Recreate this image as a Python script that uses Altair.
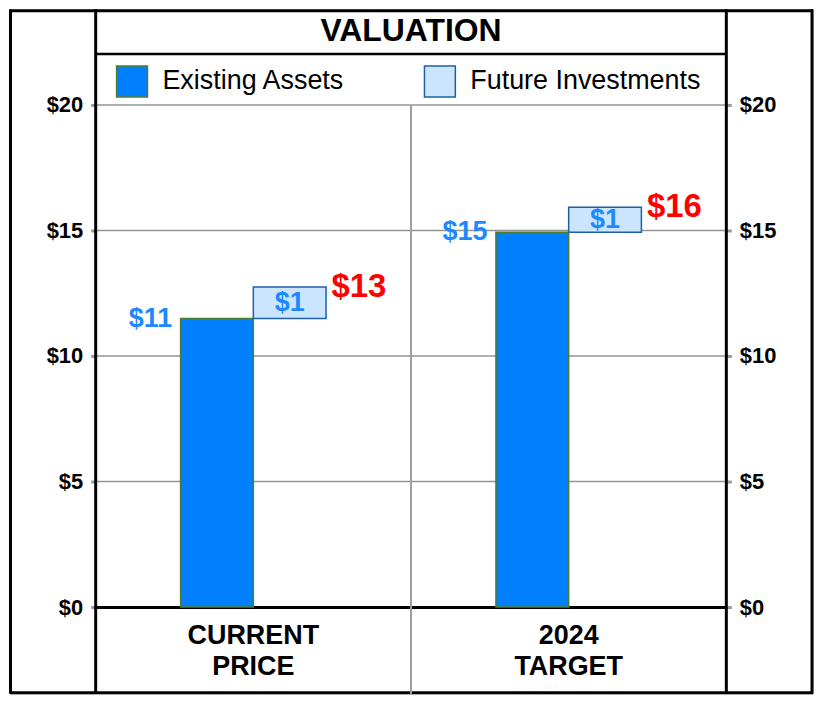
import altair as alt
import pandas as pd

FONT = "Liberation Sans"

categories = ["CURRENT PRICE", "2024 TARGET"]
series = ["Existing Assets", "Future Investments"]
existing_values = [11.49, 14.93]
future_values = [1.26, 0.99]
y_ticks = [0, 5, 10, 15, 20]
grid_values = [5, 10, 15, 20]
fill_colors = ["#0080ff", "#cce5ff"]
stroke_colors = ["#4c7d2c", "#1d5fa8"]
title_text = "VALUATION"

rows = []
for c, e, f in zip(categories, existing_values, future_values):
    rows.append({"category": c, "series": series[0], "start": 0.0, "end": e,
                 "mid": e / 2, "label": f"${round(e)}", "total_label": ""})
    rows.append({"category": c, "series": series[1], "start": e, "end": e + f,
                 "mid": e + f / 2, "label": f"${round(f)}", "total_label": f"${round(e + f)}"})
bars_df = pd.DataFrame(rows)
grid_df = pd.DataFrame({"v": grid_values})
one = pd.DataFrame({"k": [0]})

W, H = 806, 687
yscale = alt.Scale(domain=[-3.4524, 23.8095], nice=False, zero=False)

x_enc = alt.X(
    "category:N", sort=categories,
    scale=alt.Scale(domain=categories, range=[86, 719], paddingInner=0, paddingOuter=0),
    axis=alt.Axis(title=None, orient="bottom", offset=-87, domain=True, domainColor="black",
                  domainWidth=3, ticks=False, tickSize=0, labelPadding=16,
                  labelExpr="split(datum.label, ' ')", labelFontSize=27, labelFontWeight="bold",
                  labelColor="black", labelBaseline="top", labelLineHeight=31, labelAngle=0,
                  labelFont=FONT, grid=False),
)
xoff_enc = alt.XOffset("series:N",
                       scale=alt.Scale(domain=series, range=[85.25, 231.25],
                                       paddingInner=0, paddingOuter=0))

def yaxis(orient, offset):
    return alt.Axis(title=None, orient=orient, offset=offset, values=y_ticks,
                    labelExpr="'$' + datum.value", domain=False, grid=False,
                    ticks=True, tickSize=5, tickWidth=3, tickColor="#9a9a9a",
                    labelPadding=8, labelFontSize=22, labelFontWeight="bold",
                    labelColor="black", labelFont=FONT)

legend = alt.Legend(title=None, orient="none", legendX=106, legendY=56, direction="horizontal",
                    symbolType="square", symbolSize=961, symbolStrokeWidth=1.5,
                    labelFontSize=27, labelFont=FONT, labelColor="black", labelOffset=14,
                    columnPadding=76, padding=0, labelLimit=400)

bars = alt.Chart(bars_df).mark_bar(strokeWidth=1.5).encode(
    x=x_enc, xOffset=xoff_enc,
    y=alt.Y("start:Q", scale=yscale, axis=yaxis("left", -86)),
    y2="end:Q",
    fill=alt.Fill("series:N", scale=alt.Scale(domain=series, range=fill_colors), legend=legend),
    stroke=alt.Stroke("series:N", scale=alt.Scale(domain=series, range=stroke_colors), legend=legend),
)

grid = alt.Chart(grid_df).mark_rule(color="#939393", strokeWidth=1.5).encode(
    y=alt.Y("v:Q", scale=yscale, axis=yaxis("right", -87)),
    x=alt.value(86), x2=alt.value(719),
)

existing_labels = alt.Chart(bars_df).transform_filter(
    alt.datum.series == series[0]
).mark_text(align="right", baseline="middle", dx=-45, fontSize=27, fontWeight="bold",
            color="#1e88ff", font=FONT).encode(
    x=x_enc, xOffset=xoff_enc,
    y=alt.Y("end:Q", scale=yscale, axis=None), text="label:N",
)

future_labels = alt.Chart(bars_df).transform_filter(
    alt.datum.series == series[1]
).mark_text(align="center", baseline="middle", fontSize=27, fontWeight="bold",
            color="#1e88ff", font=FONT).encode(
    x=x_enc, xOffset=xoff_enc,
    y=alt.Y("mid:Q", scale=yscale, axis=None), text="label:N",
)

total_labels = alt.Chart(bars_df).transform_filter(
    alt.datum.series == series[1]
).mark_text(align="left", baseline="middle", dx=42, fontSize=33, fontWeight="bold",
            color="#ff0000", font=FONT).encode(
    x=x_enc, xOffset=xoff_enc,
    y=alt.Y("end:Q", scale=yscale, axis=None), text="total_label:N",
)

def vrule(xp, y1, y2, color="black", w=3):
    return alt.Chart(one).mark_rule(color=color, strokeWidth=w).encode(
        x=alt.value(xp), y=alt.value(y1), y2=alt.value(y2))

def hrule(yp, x1, x2, color="black", w=3):
    return alt.Chart(one).mark_rule(color=color, strokeWidth=w).encode(
        y=alt.value(yp), x=alt.value(x1), x2=alt.value(x2))

frame = [
    vrule(0.5, 0, H), vrule(805, 0, H),
    hrule(1.5, 0, W), hrule(686, 0, W),
    vrule(86, 0, H), vrule(719, 0, H),
    hrule(45, 86, 719, w=2.5),
    vrule(402.5, 96, H, color="#a0a0a0", w=2),
]

title = alt.Chart(one).mark_text(text=title_text, fontSize=32, fontWeight="bold",
                                 color="black", font=FONT, baseline="middle",
                                 align="center").encode(
    x=alt.value(402.5), y=alt.value(21.5))

chart = alt.layer(grid, bars, existing_labels, future_labels, total_labels, title, *frame).resolve_scale(
    y="shared"
).resolve_axis(y="independent").properties(
    width=W, height=H, autosize="none",
    padding={"left": 2, "top": 0, "right": 3, "bottom": 3},
).configure_view(stroke=None).configure(font=FONT, background="white")

chart.save("out.html", embed_options={"renderer": "svg", "actions": False})
